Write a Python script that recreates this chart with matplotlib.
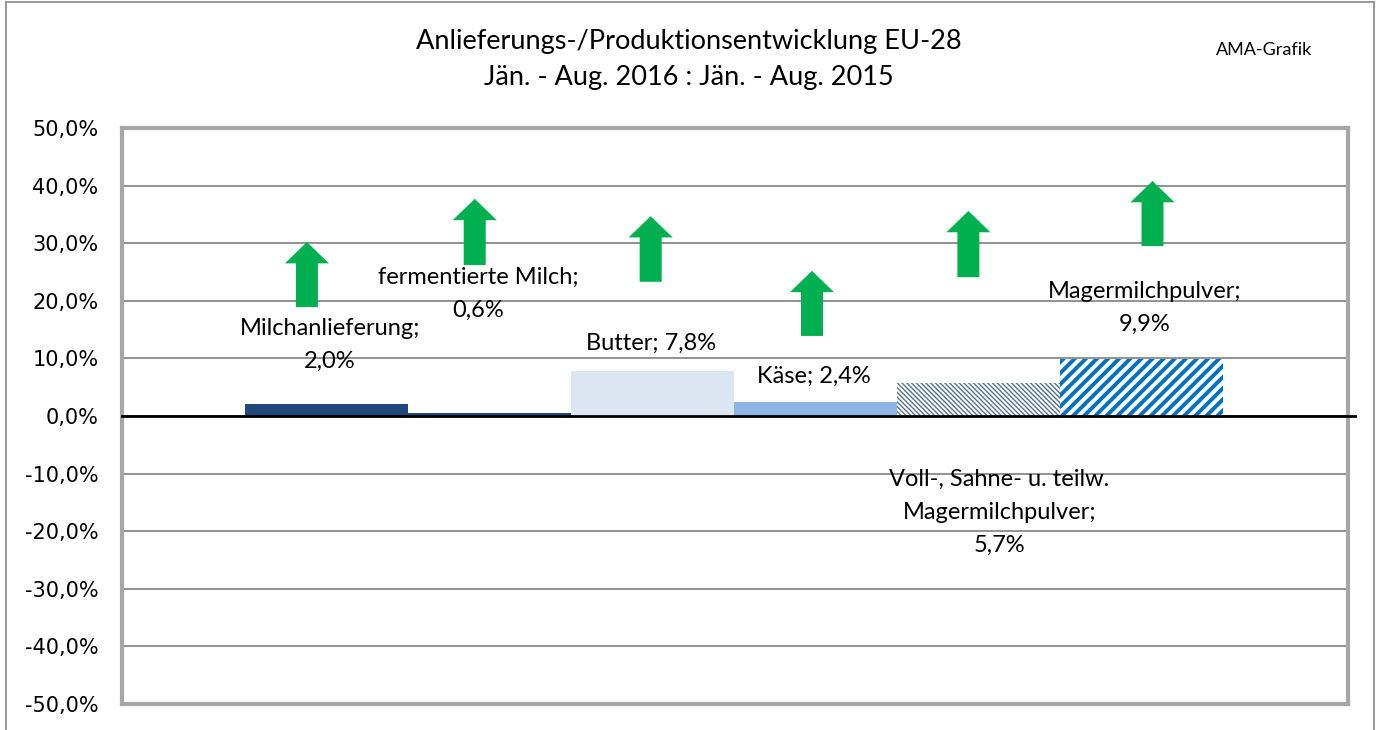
import matplotlib.pyplot as plt
from matplotlib.lines import Line2D

# values (percent change Jan-Aug 2016 vs Jan-Aug 2015)
categories = ['Milchanlieferung', 'fermentierte Milch', 'Butter', 'Käse',
              'Voll-, Sahne- u. teilw. Magermilchpulver', 'Magermilchpulver']
changes = [2.0, 0.6, 7.8, 2.4, 5.7, 9.9]
label_texts = ['Milchanlieferung;\n2,0%', 'fermentierte Milch;\n0,6%', 'Butter; 7,8%',
               'Käse; 2,4%', 'Voll-, Sahne- u. teilw.\nMagermilchpulver;\n5,7%',
               'Magermilchpulver;\n9,9%']
yticks = [-50, -40, -30, -20, -10, 0, 10, 20, 30, 40, 50]

# styling / layout
colors = ['#1F497D', '#1F497D', '#DCE6F2', '#8EB4E3', 'white', 'white']
hatches = [None, None, None, None, '\\' * 7, '///']
hatch_colors = [None, None, None, None, '#56728F', '#0070C0']
hatch_lw = [None, None, None, None, 1.0, 2.8]
label_pos = [(0.02, 12.3), (0.93, 21.2), (1.99, 12.7), (2.99, 6.9),
             (4.13, -16.7), (5.02, 18.8)]
# green "up" arrows (x, bottom, top) in data units
arrows = [(-0.12, 18.9, 30.2), (0.91, 26.2, 37.7), (1.99, 23.3, 34.7),
          (2.98, 13.9, 25.2), (3.94, 24.1, 35.6), (5.07, 29.5, 40.8)]

fig = plt.figure(figsize=(13.78, 7.30), dpi=100)
ax = fig.add_axes([122 / 1378, 26 / 730, 1226 / 1378, 576 / 730])

x = list(range(len(changes)))
for i, v in enumerate(changes):
    bar = ax.bar(x[i], v, width=1.0, color=colors[i], linewidth=0, zorder=3)[0]
    if hatches[i]:
        bar.set_hatch(hatches[i])
        bar.set_edgecolor(hatch_colors[i])
        bar.set_linewidth(0)
        try:
            bar.set_hatch_linewidth(hatch_lw[i])
        except AttributeError:
            bar._hatch_linewidth = hatch_lw[i]

for (xp, y0, y1) in arrows:
    ax.arrow(xp, y0, 0, y1 - y0, width=0.135, head_width=0.27, head_length=3.7,
             length_includes_head=True, color='#00B050', linewidth=0, zorder=4)

for (xp, yp), txt in zip(label_pos, label_texts):
    ax.text(xp, yp, txt, ha='center', va='center', fontsize=17, family='Lato',
            linespacing=1.7, zorder=5)

ax.set_xlim(-1.255, 6.27)
ax.set_ylim(-50, 50)
ax.set_yticks(yticks)
ax.set_yticklabels([f'{t:.1f}%'.replace('.', ',') for t in yticks], fontsize=15)
ax.tick_params(axis='y', length=0, pad=17)
ax.set_xticks([])
ax.grid(axis='y', color='#898989', linewidth=1.3, zorder=0)
for s in ax.spines.values():
    s.set_color('#A6A6A6')
    s.set_linewidth(3)
ax.plot([-1.255, 6.31], [0, 0], color='black', linewidth=2, clip_on=False, zorder=4)

fig.text(0.5, 1 - 42 / 730, 'Anlieferungs-/Produktionsentwicklung EU-28',
         ha='center', va='center', fontsize=19.5, family='Lato')
fig.text(0.5, 1 - 77 / 730, 'Jän. - Aug. 2016 : Jän. - Aug. 2015',
         ha='center', va='center', fontsize=19.5, family='Lato')
fig.text(1264 / 1378, 1 - 50 / 730, 'AMA-Grafik', ha='center', va='center',
         fontsize=13, family='Lato')

# outer chart border
for xs, ys in [([6, 6], [0, 728]), ([6, 1374], [728, 728]), ([1374, 1374], [728, 0])]:
    fig.add_artist(Line2D([v / 1378 for v in xs], [v / 730 for v in ys],
                          color='#9A9A9A', linewidth=1.5))

fig.savefig('out.png', dpi=100)
